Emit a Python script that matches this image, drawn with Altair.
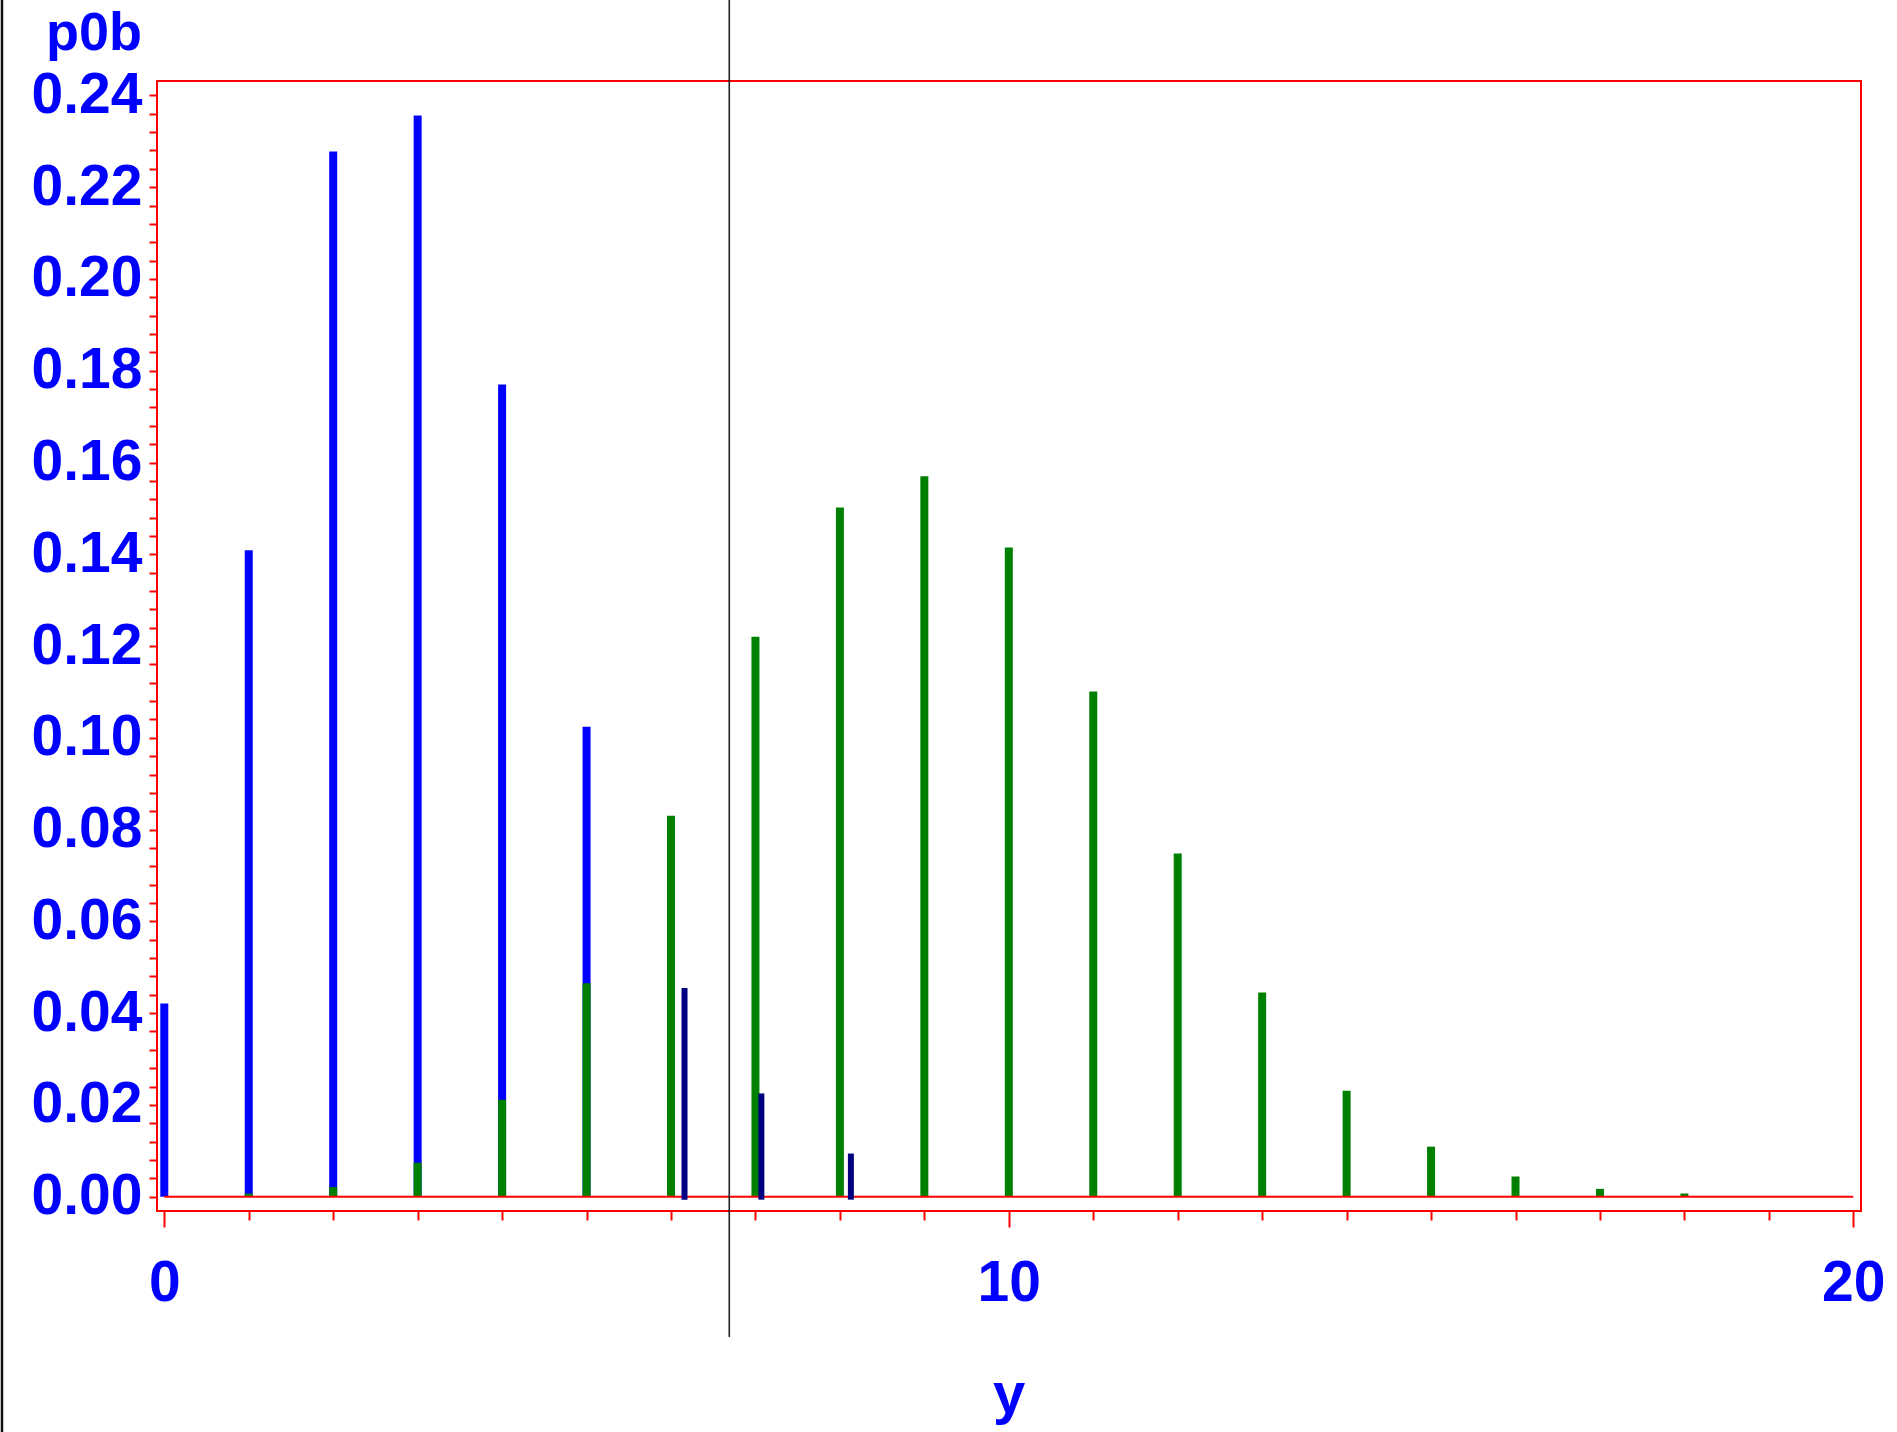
import altair as alt
import pandas as pd

# ---- data ----
blue_x = [0, 1, 2, 3, 4, 5]
blue_p = [0.0421, 0.1409, 0.2278, 0.2356, 0.1770, 0.1024]

green_x = [1, 2, 3, 4, 5, 6, 7, 8, 9, 10, 11, 12, 13, 14, 15, 16, 17, 18]
green_p = [0.0007, 0.0021, 0.0074, 0.0211, 0.0465, 0.0830, 0.1220, 0.1502,
           0.1570, 0.1415, 0.1101, 0.0748, 0.0445, 0.0231, 0.0109, 0.0044,
           0.0017, 0.0007]

navy_x = [6.16, 7.07, 8.13]
navy_p = [0.0455, 0.0225, 0.0094]
navy_base = -0.00065

vline_x = 6.69
vline_y = [-0.0306, 0.2608]
edge_x = -1.922
edge_y = [-0.0513, 0.2608]
zero_span = [0, 20]

x_ticks = list(range(0, 21))
y_ticks = [round(k * 0.004, 3) for k in range(61)]
x_domain = [-0.0864, 20.091]
y_domain = [-0.00312, 0.24314]

BLUE = "#0000FF"
LABEL_FONT = "Liberation Sans, Arial"
TITLE_FONT = "Liberation Sans, Arial"

xs = alt.Scale(domain=x_domain, nice=False, zero=False, padding=0)
ys = alt.Scale(domain=y_domain, nice=False, zero=False, padding=0)

xaxis = alt.Axis(
    values=x_ticks,
    tickSize={"condition": {"test": "datum.value % 10 === 0", "value": 16}, "value": 9},
    tickColor="red", tickWidth=2, domain=False, grid=False,
    labelExpr="datum.value % 10 === 0 ? datum.label : ''",
    labelFont=LABEL_FONT, labelFontSize=57, labelFontWeight="bold", labelColor=BLUE,
    labelPadding=28, labelFlush=False, labelOverlap=False, labelBound=False,
    title="y", titleFont=TITLE_FONT, titleFontSize=58, titleFontWeight="bold",
    titleColor=BLUE, titleX=851.5, titleY=201, titleBaseline="alphabetic",
    titleAlign="center",
)
yaxis = alt.Axis(
    values=y_ticks, tickSize=8, tickColor="red", tickWidth=2, domain=False, grid=False,
    labelExpr="round(datum.value*1000) % 20 === 0 ? format(datum.value, '.2f') : ''",
    labelFont=LABEL_FONT, labelFontSize=57, labelFontWeight="bold", labelColor=BLUE,
    labelPadding=7, labelOverlap=False, labelBound=False, labelFlush=False,
    title="p0b", titleFont=TITLE_FONT, titleFontSize=54, titleFontWeight="bold",
    titleColor=BLUE, titleAngle=0, titleX=-63.5, titleY=-32, titleAlign="center",
    titleBaseline="alphabetic",
)


def X(f):
    return alt.X(f, type="quantitative", scale=xs, axis=xaxis)


def Y(f):
    return alt.Y(f, type="quantitative", scale=ys, axis=yaxis)


blue_df = pd.DataFrame({"x": blue_x, "p": blue_p, "b": [0.0] * len(blue_x)})
green_df = pd.DataFrame({"x": green_x, "p": green_p, "b": [0.0] * len(green_x)})
navy_df = pd.DataFrame({"x": navy_x, "p": navy_p, "b": [navy_base] * len(navy_x)})
zero_df = pd.DataFrame({"x": [zero_span[0]], "x2": [zero_span[1]], "y": [0.0]})
vline_df = pd.DataFrame({"x": [vline_x], "y": [vline_y[0]], "y2": [vline_y[1]]})
edge_df = pd.DataFrame({"x": [edge_x], "y": [edge_y[0]], "y2": [edge_y[1]]})

blue = alt.Chart(blue_df).mark_bar(size=8, color=BLUE).encode(x=X("x"), y=Y("p"), y2="b")
green = alt.Chart(green_df).mark_bar(size=8, color="#008000").encode(x=X("x"), y=Y("p"), y2="b")
zero = alt.Chart(zero_df).mark_rule(color="red", strokeWidth=2).encode(x=X("x"), x2="x2", y=Y("y"))
navy = alt.Chart(navy_df).mark_bar(size=6, color="#000080").encode(x=X("x"), y=Y("p"), y2="b")
vline = alt.Chart(vline_df).mark_rule(color="#222222", strokeWidth=1.6).encode(x=X("x"), y=Y("y"), y2="y2")
edge = alt.Chart(edge_df).mark_rule(color="#111111", strokeWidth=2.5).encode(x=X("x"), y=Y("y"), y2="y2")

chart = alt.layer(blue, green, zero, navy, vline, edge).properties(
    width=1704, height=1130,
    padding={"left": 157, "top": 81, "right": 36, "bottom": 221},
    autosize=alt.AutoSizeParams(type="none"),
    background="white",
).configure_view(stroke="red", strokeWidth=2)

chart.save("out.html", embed_options={"renderer": "svg", "actions": False})
